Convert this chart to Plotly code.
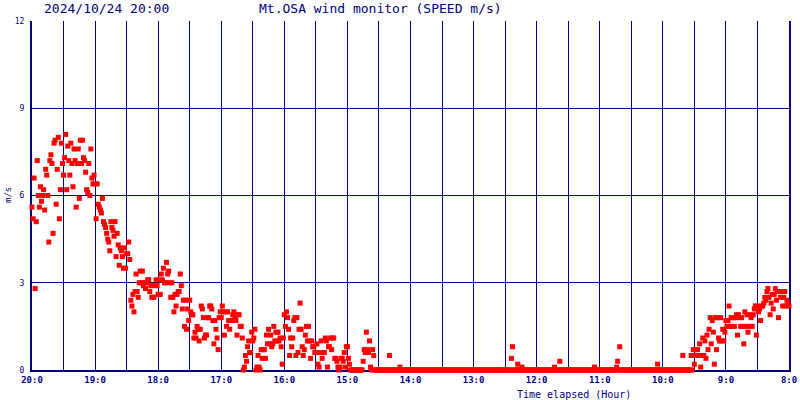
import plotly.graph_objects as go

NAVY = "#000080"
MONO = "DejaVu Sans Mono"

hour_labels = ["20:0", "19:0", "18:0", "17:0", "16:0", "15:0", "14:0",
               "13:0", "12:0", "11:0", "10:0", "9:0", "8:0"]
speed_ticks = [0, 3, 6, 9, 12]

# wind speed (m/s), one reading per minute, counted back from 20:00
speed_20_19 = [5.6, 5.2, 6.6, 2.8, 5.1, 7.2, 6.0, 5.6, 6.3, 5.8,
               6.0, 6.2, 5.5, 6.9, 6.7, 6.0, 4.4, 7.2, 7.4, 7.1,
               4.7, 7.8, 7.9, 5.7, 6.9, 8.0, 5.2, 6.2, 7.8, 7.1,
               6.7, 7.3, 8.1, 6.2, 7.7, 7.2, 6.7, 7.8, 7.1, 6.3,
               7.6, 7.2, 5.6, 7.1, 7.6, 5.9, 7.9, 7.1, 7.9, 7.3,
               7.2, 6.8, 6.2, 6.1, 7.1, 6.0, 7.6, 6.6, 6.4, 6.7]
speed_19_18 = [6.4, 5.2, 6.4, 5.7, 5.6, 5.5, 5.4, 5.9, 5.1, 5.0,
               4.9, 4.7, 4.5, 4.4, 4.1, 5.1, 4.9, 4.8, 4.6, 5.1,
               3.9, 4.7, 4.3, 3.6, 4.2, 4.1, 3.9, 3.5, 4.2, 3.5,
               4.0, 4.0, 4.4, 3.8, 2.4, 2.2, 2.6, 2.0, 2.7, 3.3,
               2.7, 2.5, 3.0, 3.4, 3.0, 3.4, 2.9, 3.0, 2.8, 3.0,
               3.1, 3.1, 2.7, 2.9, 2.5, 2.5, 2.5, 2.9, 3.1, 2.9]
speed_18_17 = [2.6, 3.1, 2.6, 3.3, 3.1, 3.5, 3.0, 3.0, 3.7, 3.3,
               3.4, 3.0, 2.5, 3.0, 2.5, 2.0, 2.6, 2.2, 2.6, 2.7,
               2.7, 3.3, 2.9, 2.1, 2.4, 1.5, 2.4, 1.4, 2.1, 1.7,
               2.4, 2.0, 1.9, 1.9, 1.1, 1.3, 1.1, 1.5, 1.4, 1.0,
               1.4, 2.2, 2.1, 1.8, 1.1, 1.2, 1.2, 1.8, 1.8, 2.2,
               2.2, 2.1, 1.7, 0.9, 1.7, 1.4, 1.1, 0.7, 1.8, 2.0]
speed_17_16 = [1.8, 2.2, 2.0, 1.2, 2.0, 1.5, 2.0, 1.7, 1.4, 1.7,
               1.7, 1.9, 2.0, 1.8, 1.7, 1.2, 1.9, 1.9, 1.5, 1.5,
               1.1, 0.0, 0.1, 0.5, 0.3, 0.8, 1.0, 0.6, 0.6, 1.3,
               1.0, 1.1, 1.4, 0.0, 0.1, 0.5, 0.1, 0.0, 0.7, 0.4,
               0.7, 0.7, 0.4, 1.2, 0.9, 1.4, 0.9, 1.2, 0.8, 0.9,
               1.5, 1.0, 1.3, 1.0, 1.3, 1.0, 1.1, 0.8, 0.2, 1.1]
speed_16_15 = [1.9, 1.5, 2.0, 1.8, 1.4, 0.5, 1.1, 0.8, 1.1, 1.7,
               1.8, 0.5, 1.8, 0.6, 1.4, 2.3, 1.4, 0.8, 0.5, 0.7,
               1.2, 1.5, 1.0, 1.5, 1.0, 0.4, 1.0, 0.8, 0.8, 0.6,
               0.6, 0.9, 0.2, 0.1, 0.6, 1.0, 0.4, 0.6, 0.6, 1.1,
               1.0, 0.1, 0.8, 0.8, 1.1, 0.7, 1.1, 1.1, 0.4, 0.4,
               0.3, 0.1, 0.0, 0.1, 0.4, 0.4, 0.3, 0.6, 0.1, 0.8]
speed_15_14 = [0.8, 0.4, 0.2, 0.0, 0.0, 0.0, 0.0, 0.0, 0.0, 0.0,
               0.0, 0.0, 0.0, 0.0, 0.0, 0.3, 0.7, 0.6, 1.3, 0.7,
               0.6, 1.0, 0.1, 0.0, 0.7, 0.5, 0.0, 0.0, 0.0, 0.0,
               0.0, 0.0, 0.0, 0.0, 0.0, 0.0, 0.0, 0.0, 0.0, 0.0,
               0.5, 0.0, 0.0, 0.0, 0.0, 0.0, 0.0, 0.0, 0.0, 0.0,
               0.1, 0.0, 0.0, 0.0, 0.0, 0.0, 0.0, 0.0, 0.0, 0.0]
speed_14_13 = [0.0, 0.0, 0.0, 0.0, 0.0, 0.0, 0.0, 0.0, 0.0, 0.0,
               0.0, 0.0, 0.0, 0.0, 0.0, 0.0, 0.0, 0.0, 0.0, 0.0,
               0.0, 0.0, 0.0, 0.0, 0.0, 0.0, 0.0, 0.0, 0.0, 0.0,
               0.0, 0.0, 0.0, 0.0, 0.0, 0.0, 0.0, 0.0, 0.0, 0.0,
               0.0, 0.0, 0.0, 0.0, 0.0, 0.0, 0.0, 0.0, 0.0, 0.0,
               0.0, 0.0, 0.0, 0.0, 0.0, 0.0, 0.0, 0.0, 0.0, 0.0]
speed_13_12 = [0.0, 0.0, 0.0, 0.0, 0.0, 0.0, 0.0, 0.0, 0.0, 0.0,
               0.0, 0.0, 0.0, 0.0, 0.0, 0.0, 0.0, 0.0, 0.0, 0.0,
               0.0, 0.0, 0.0, 0.0, 0.0, 0.0, 0.0, 0.0, 0.0, 0.0,
               0.0, 0.0, 0.0, 0.0, 0.0, 0.0, 0.4, 0.8, 0.0, 0.0,
               0.0, 0.0, 0.2, 0.0, 0.0, 0.0, 0.1, 0.0, 0.0, 0.0,
               0.0, 0.0, 0.0, 0.0, 0.0, 0.0, 0.0, 0.0, 0.0, 0.0]
speed_12_11 = [0.0, 0.0, 0.0, 0.0, 0.0, 0.0, 0.0, 0.0, 0.0, 0.0,
               0.0, 0.0, 0.0, 0.0, 0.0, 0.0, 0.0, 0.1, 0.0, 0.0,
               0.0, 0.0, 0.3, 0.0, 0.0, 0.0, 0.0, 0.0, 0.0, 0.0,
               0.0, 0.0, 0.0, 0.0, 0.0, 0.0, 0.0, 0.0, 0.0, 0.0,
               0.0, 0.0, 0.0, 0.0, 0.0, 0.0, 0.0, 0.0, 0.0, 0.0,
               0.0, 0.0, 0.0, 0.0, 0.0, 0.1, 0.0, 0.0, 0.0, 0.0]
speed_11_10 = [0.0, 0.0, 0.0, 0.0, 0.0, 0.0, 0.0, 0.0, 0.0, 0.0,
               0.0, 0.0, 0.0, 0.0, 0.0, 0.0, 0.1, 0.3, 0.0, 0.8,
               0.0, 0.0, 0.0, 0.0, 0.0, 0.0, 0.0, 0.0, 0.0, 0.0,
               0.0, 0.0, 0.0, 0.0, 0.0, 0.0, 0.0, 0.0, 0.0, 0.0,
               0.0, 0.0, 0.0, 0.0, 0.0, 0.0, 0.0, 0.0, 0.0, 0.0,
               0.0, 0.0, 0.0, 0.0, 0.0, 0.2, 0.0, 0.0, 0.0, 0.0]
speed_10_9 = [0.0, 0.0, 0.0, 0.0, 0.0, 0.0, 0.0, 0.0, 0.0, 0.0,
              0.0, 0.0, 0.0, 0.0, 0.0, 0.0, 0.0, 0.0, 0.0, 0.5,
              0.0, 0.0, 0.0, 0.0, 0.0, 0.0, 0.0, 0.5, 0.0, 0.7,
              0.2, 0.5, 0.5, 0.7, 0.5, 0.9, 0.1, 0.5, 1.1, 0.5,
              1.0, 0.4, 1.2, 0.7, 1.4, 1.8, 0.9, 1.7, 1.3, 0.2,
              1.8, 0.7, 1.8, 1.1, 1.0, 1.8, 1.0, 1.4, 1.0, 1.3]
speed_9_8 = [1.7, 1.5, 1.7, 2.2, 1.5, 1.8, 1.5, 1.8, 1.5, 1.8,
             1.9, 1.2, 1.9, 1.8, 1.5, 1.8, 1.5, 0.9, 2.0, 1.5,
             1.9, 1.3, 1.5, 1.9, 1.8, 1.5, 1.9, 2.1, 2.2, 1.2,
             2.2, 2.0, 2.1, 1.7, 2.2, 2.2, 2.3, 2.5, 2.4, 2.7,
             2.8, 2.5, 1.9, 2.3, 2.6, 2.1, 2.6, 2.8, 2.4, 2.7,
             1.8, 2.7, 2.5, 2.7, 2.2, 2.5, 2.7, 2.2, 2.4, 2.3,
             2.2]

hourly = [speed_20_19, speed_19_18, speed_18_17, speed_17_16, speed_16_15,
          speed_15_14, speed_14_13, speed_13_12, speed_12_11, speed_11_10,
          speed_10_9, speed_9_8]

minutes, speeds = [], []
for h, block in enumerate(hourly):
    for i, v in enumerate(block):
        minutes.append(h * 60 + i)
        speeds.append(v)

tickvals = list(range(0, 721, 30))
ticktext = [hour_labels[v // 60] if v % 60 == 0 else "" for v in tickvals]

fig = go.Figure()
fig.add_trace(go.Scatter(
    x=minutes,
    y=speeds,
    mode='markers',
    marker=dict(symbol='square', size=5, color='#ff0000', line=dict(width=0)),
    cliponaxis=False,
    hoverinfo='skip'
))

fig.update_layout(
    width=800, height=400, autosize=False,
    margin=dict(l=32, r=11, t=21, b=30),
    plot_bgcolor='white', paper_bgcolor='white',
    showlegend=False,
    xaxis=dict(
        range=[0, 720], automargin=False,
        tickvals=tickvals, ticktext=ticktext,
        showgrid=True, gridcolor=NAVY, gridwidth=1,
        showline=True, linecolor=NAVY, linewidth=2,
        ticks='', zeroline=False, layer='below traces',
        tickfont=dict(family=MONO, size=9, color=NAVY, weight='bold'),
    ),
    yaxis=dict(
        range=[0, 12], automargin=False,
        tickvals=speed_ticks,
        showgrid=True, gridcolor=NAVY, gridwidth=1,
        showline=True, linecolor=NAVY, linewidth=2, mirror=True,
        ticks='', zeroline=False, layer='below traces',
        ticklabelstandoff=4,
        tickfont=dict(family=MONO, size=8, color=NAVY),
    ),
    annotations=[
        dict(text="2024/10/24 20:00", xref='paper', yref='paper',
             x=(42 - 32) / 757, y=(370 - 8) / 349, xanchor='left', yanchor='middle',
             showarrow=False, font=dict(family=MONO, size=13, color=NAVY)),
        dict(text="Mt.OSA wind monitor (SPEED m/s)", xref='paper', yref='paper',
             x=(257 - 32) / 757, y=(370 - 8) / 349, xanchor='left', yanchor='middle',
             showarrow=False, font=dict(family=MONO, size=13, color=NAVY)),
        dict(text="Time elapsed (Hour)", xref='paper', yref='paper',
             x=(515 - 32) / 757, y=(370 - 394) / 349, xanchor='left', yanchor='middle',
             showarrow=False, font=dict(family=MONO, size=10, color=NAVY)),
        dict(text="m/s", xref='paper', yref='paper', textangle=-90,
             x=(8 - 32) / 757, y=(370 - 195) / 349, xanchor='center', yanchor='middle',
             showarrow=False, font=dict(family=MONO, size=9, color=NAVY)),
    ],
)

# drop the browser's default 8px page margin so the figure sits at the corner
fig.write_html("out.html", config={'displayModeBar': False},
               post_script="document.body.style.margin='0';")
